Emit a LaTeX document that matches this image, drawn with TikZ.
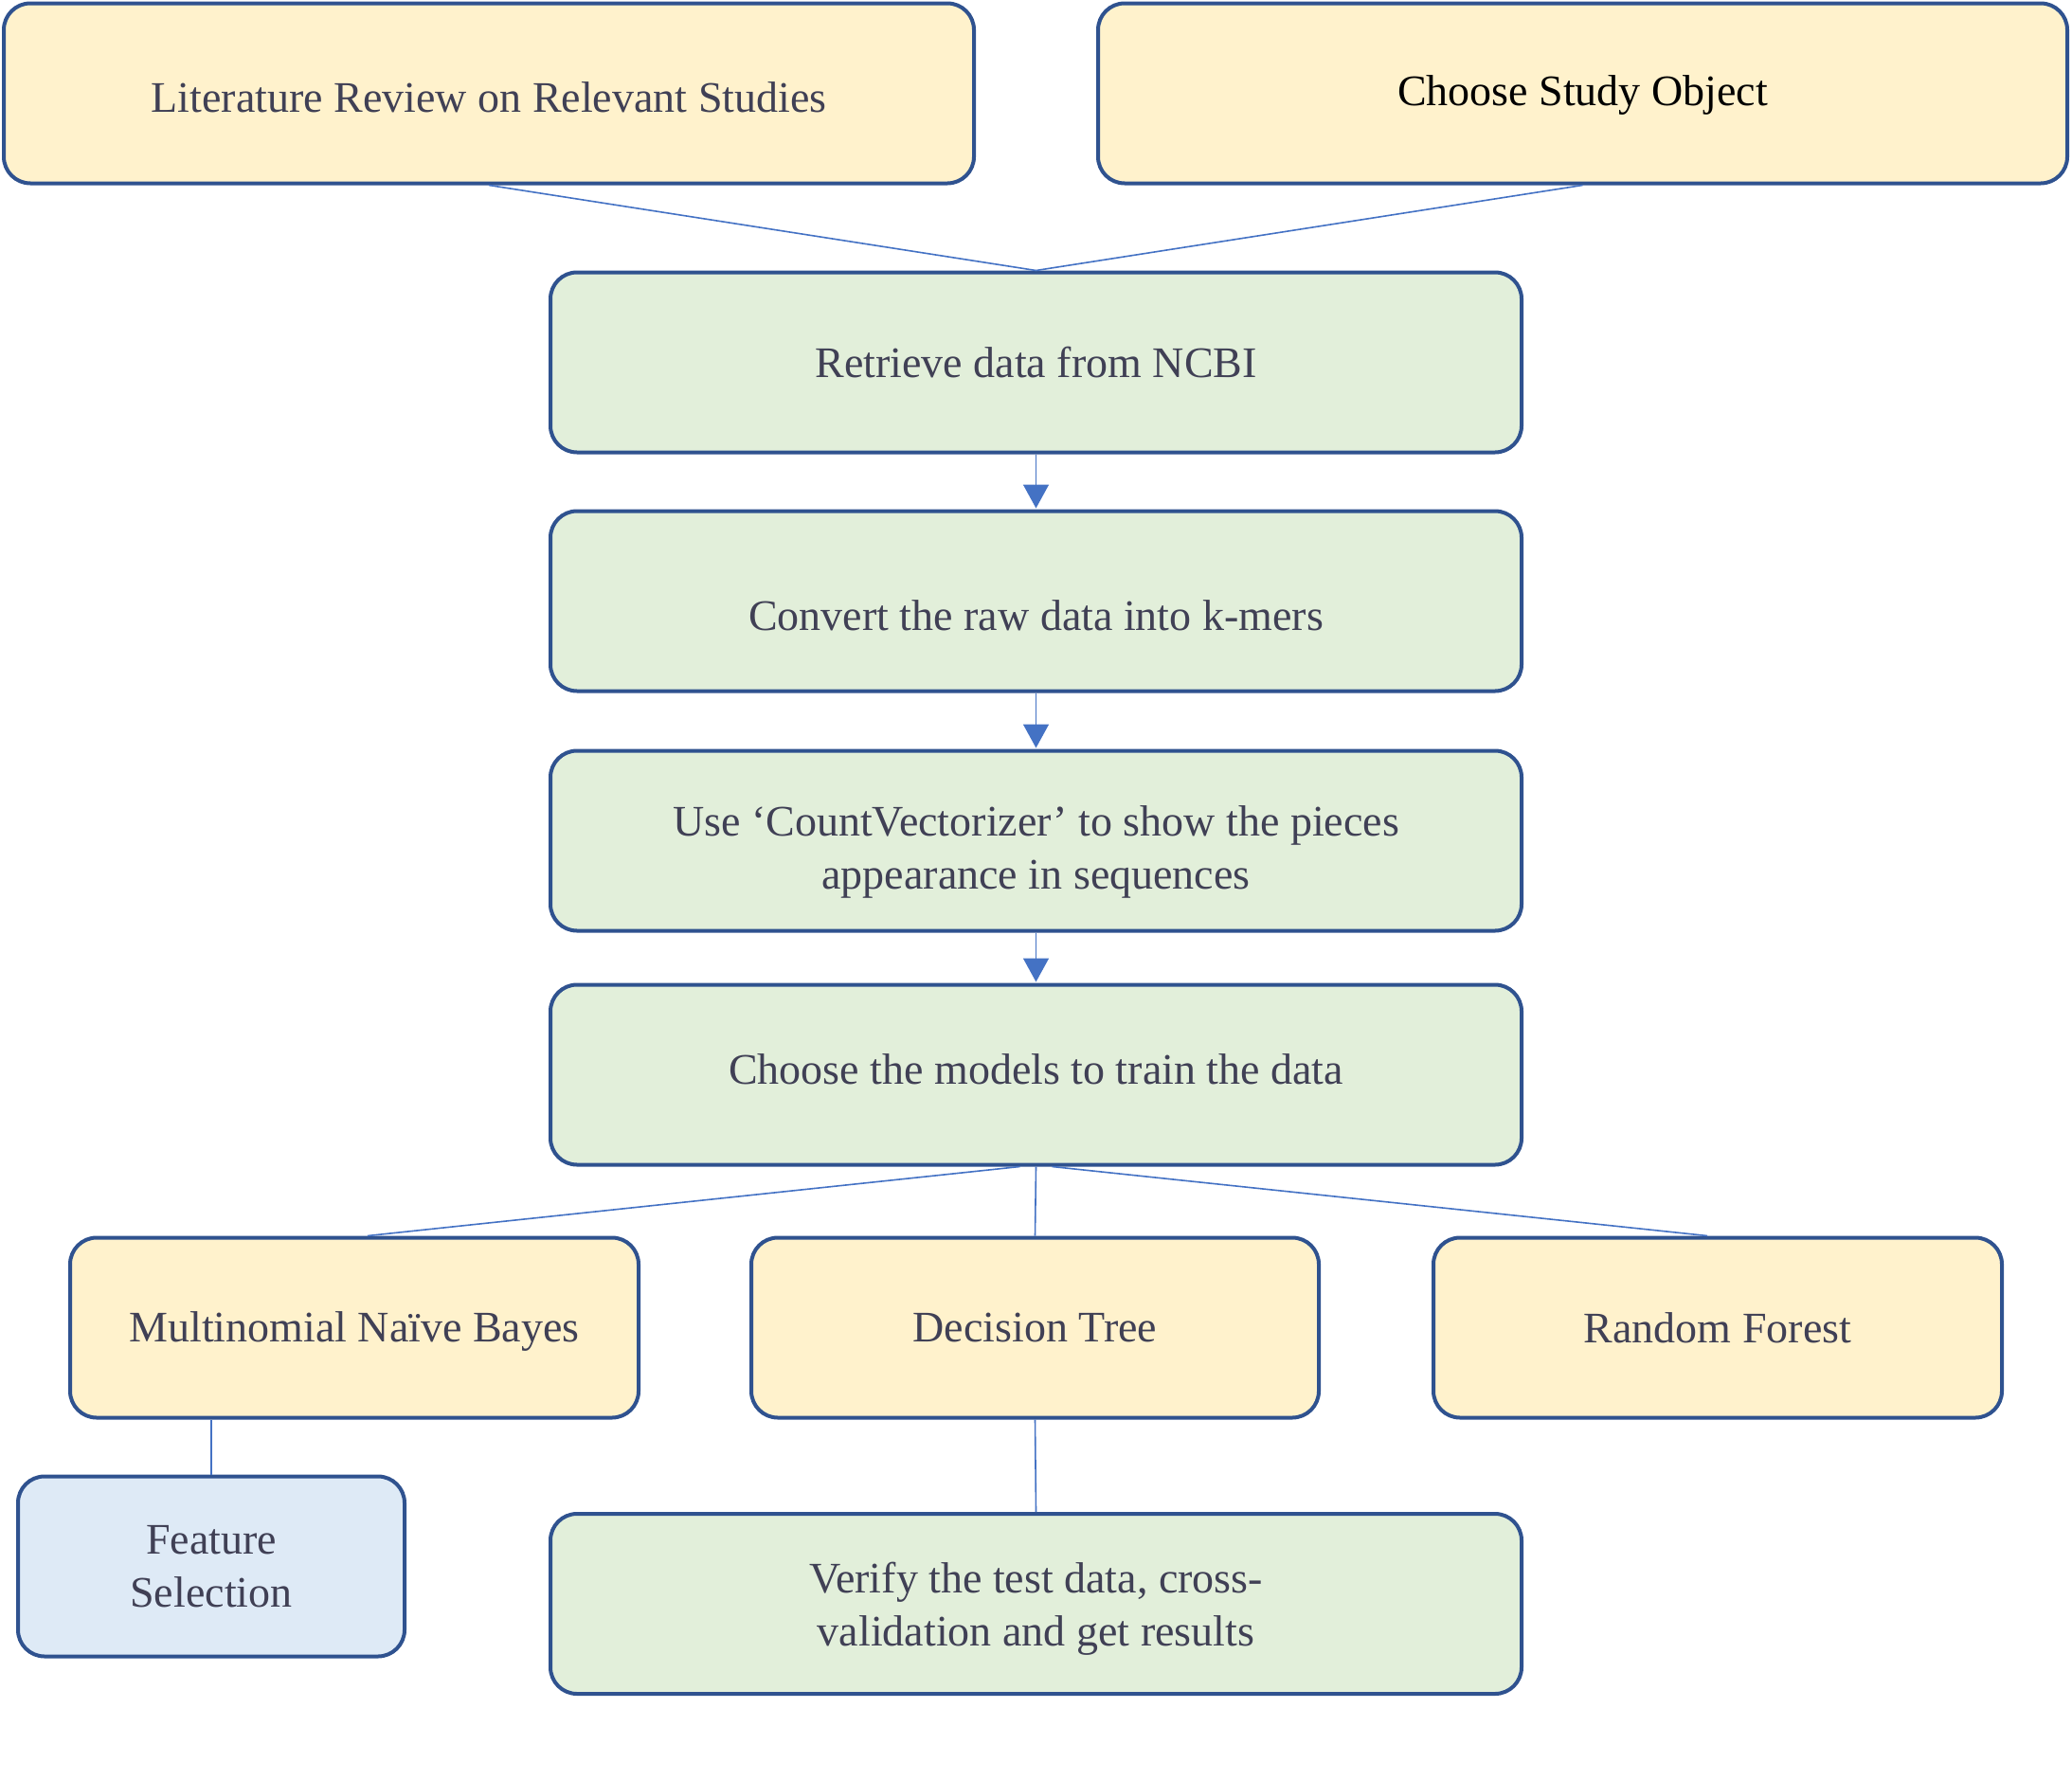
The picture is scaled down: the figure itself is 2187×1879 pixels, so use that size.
\documentclass[tikz,border=0pt]{standalone}
\usepackage{fontspec}
\setmainfont{Liberation Serif}
\usetikzlibrary{arrows.meta}
\definecolor{bordc}{HTML}{2F528F}
\definecolor{linec}{HTML}{4472C4}
\definecolor{yel}{HTML}{FFF2CC}
\definecolor{grn}{HTML}{E2EFDA}
\definecolor{blu}{HTML}{DEEAF6}
\definecolor{txt}{HTML}{404055}
\tikzset{
  box/.style={draw=bordc, line width=4pt, rounded corners=28pt, inner sep=0pt,
    minimum height=190pt, align=center, text=txt,
    font=\fontsize{46}{56}\selectfont},
  ybox/.style={box, fill=yel},
  gbox/.style={box, fill=grn},
  bbox/.style={box, fill=blu},
  conn/.style={draw=linec, line width=1.6pt},
  arr/.style={conn, -{Triangle[width=27pt,length=25pt]}, shorten >=1pt},
  lbl/.style={align=center, text=txt, font=\fontsize{46}{56}\selectfont, inner sep=0pt}
}
\begin{document}
\begin{tikzpicture}[x=1pt,y=-1pt]
\useasboundingbox (0,0) rectangle (2187,1879);
% boxes
\node[ybox, minimum width=1024pt] (lit) at (516,98.5) {};
\node[lbl] at (516,103) {Literature Review on Relevant Studies};
\node[ybox, minimum width=1023pt] (study) at (1670.5,98.5) {};
\node[lbl, text=black] at (1670.5,101) {Choose Study Object};
\node[gbox, minimum width=1025pt] (retr) at (1093.5,382.5) {Retrieve data from NCBI};
\node[gbox, minimum width=1025pt] (conv) at (1093.5,634.5) {};
\node[lbl] at (1093.5,650) {Convert the raw data into k-mers};
\node[gbox, minimum width=1025pt] (count) at (1093.5,887.5) {};
\node[lbl] at (1093.5,899) {Use ‘CountVectorizer’ to show the pieces\\appearance in sequences};
\node[gbox, minimum width=1025pt] (models) at (1093.5,1134.5) {};
\node[lbl] at (1093.5,1129) {Choose the models to train the data};
\node[ybox, minimum width=600pt] (mnb) at (374,1401.5) {};
\node[lbl] at (374,1405.5) {Multinomial Naïve Bayes};
\node[ybox, minimum width=599pt] (dt) at (1092.5,1401.5) {Decision Tree};
\node[ybox, minimum width=600pt] (rf) at (1813,1401.5) {Random Forest};
\node[bbox, minimum width=408pt] (fs) at (223,1653.5) {Feature\\Selection};
\node[gbox, minimum width=1025pt] (ver) at (1093.5,1693) {};
\node[lbl] at (1093.5,1698) {Verify the test data, cross-\\validation and get results};
% connectors
\draw[conn] (lit.south) -- (retr.north);
\draw[conn] (study.south) -- (retr.north);
\draw[arr] (retr.south) -- (conv.north);
\draw[arr] (conv.south) -- (count.north);
\draw[arr] (count.south) -- (models.north);
\draw[conn] ([xshift=-17pt]models.south) -- ([xshift=14pt]mnb.north);
\draw[conn] (models.south) -- (dt.north);
\draw[conn] ([xshift=17pt]models.south) -- ([xshift=-11pt]rf.north);
\draw[conn] (fs.north |- mnb.south) -- (fs.north);
\draw[conn] (dt.south) -- (ver.north);
\end{tikzpicture}
\end{document}
